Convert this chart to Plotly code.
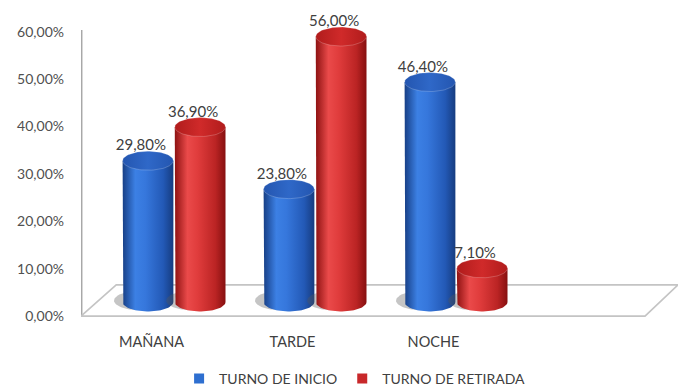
import numpy as np
import plotly.graph_objects as go

# ---------------- data ----------------
categories = ["MAÑANA", "TARDE", "NOCHE"]
turno_inicio = [29.8, 23.8, 46.4]
turno_retirada = [36.9, 56.0, 7.1]
series_names = ["TURNO DE INICIO", "TURNO DE RETIRADA"]
y_tick_values = [0, 10, 20, 30, 40, 50, 60]
y_tick_labels = ["0,00%", "10,00%", "20,00%", "30,00%", "40,00%", "50,00%", "60,00%"]

# ---------------- style ----------------
FONT = "Lato"
TXT = "#404040"
BASE = 3.0          # 3D floor offset (data units)
ELL_B = 2.0         # ellipse vertical semi-axis (data units)
HALF_W = 0.18       # cylinder half width (category units)
OFFSETS = [-0.025, 0.345]
X_RANGE = [-0.5, 3.734]
Y_RANGE = [-0.6, 64.6]
AXIS_TOP = 60.4
FLOOR_DEPTH_X = 0.25
FLOOR_DEPTH_Y = 6.6

body_scales = [
    [[0, "#173f86"], [0.25, "#3c80e4"], [0.45, "#3677dc"], [0.8, "#2359b6"], [1, "#163c80"]],
    [[0, "#8e1212"], [0.25, "#ea4a4a"], [0.45, "#e03c3c"], [0.8, "#bb2424"], [1, "#861010"]],
]
top_scales = [
    [[0, "#2456b0"], [0.5, "#2f68c8"], [1, "#2456b0"]],
    [[0, "#b01c1c"], [0.5, "#d02a2a"], [1, "#b01c1c"]],
]
legend_colors = ["#2e6fd0", "#c8282a"]

fig = go.Figure()

# vertical axis line
fig.add_trace(go.Scatter(x=[X_RANGE[0] + 0.004, X_RANGE[0] + 0.004], y=[0, AXIS_TOP], mode="lines",
                         line=dict(color="#a8a8a8", width=1.8), hoverinfo="skip", showlegend=False))

# floor (3D base plane outline)
fx = [X_RANGE[0], 3.5, 3.5 + FLOOR_DEPTH_X - 0.016, X_RANGE[0] + FLOOR_DEPTH_X, X_RANGE[0]]
fy = [0, 0, FLOOR_DEPTH_Y, FLOOR_DEPTH_Y, 0]
fig.add_trace(go.Scatter(x=fx, y=fy, mode="lines", line=dict(color="#c4c4c4", width=1.6),
                         hoverinfo="skip", showlegend=False))

theta = np.linspace(0, np.pi, 40)
full = np.linspace(0, 2 * np.pi, 80)

for s, values in enumerate([turno_inicio, turno_retirada]):
    for i, v in enumerate(values):
        xc = i + OFFSETS[s]
        top = BASE + v
        # shadow
        sx = xc - 0.07 + HALF_W * 0.95 * np.cos(full)
        sy = BASE + 0.3 + ELL_B * 1.0 * np.sin(full)
        fig.add_trace(go.Scatter(x=sx, y=sy, mode="lines", fill="toself",
                                 fillcolor="rgba(90,90,90,0.35)", line=dict(width=0),
                                 hoverinfo="skip", showlegend=False))
        # body
        bx = np.concatenate([[xc - HALF_W], xc - HALF_W * np.cos(theta), [xc + HALF_W, xc - HALF_W]])
        by = np.concatenate([[top], BASE - ELL_B * np.sin(theta), [top, top]])
        fig.add_trace(go.Scatter(x=bx, y=by, mode="lines", fill="toself",
                                 fillgradient=dict(type="horizontal", colorscale=body_scales[s]),
                                 line=dict(width=0), hoverinfo="skip", showlegend=False))
        # top face
        tx = xc + HALF_W * np.cos(full)
        ty = top + ELL_B * np.sin(full)
        fig.add_trace(go.Scatter(x=tx, y=ty, mode="lines", fill="toself",
                                 fillgradient=dict(type="horizontal", colorscale=top_scales[s]),
                                 line=dict(width=0.6, color="rgba(255,255,255,0.35)"),
                                 hoverinfo="skip", showlegend=False))

# data labels
for s, values in enumerate([turno_inicio, turno_retirada]):
    fig.add_trace(go.Scatter(
        x=[i + OFFSETS[s] - 0.05 for i in range(len(values))],
        y=[BASE + v + 3.0 for v in values],
        mode="text",
        text=[f"{v:.2f}%".replace(".", ",") for v in values],
        textposition="middle center",
        textfont=dict(family=FONT, size=15, color=TXT),
        cliponaxis=False, hoverinfo="skip", showlegend=False))

# legend entries
for s, name in enumerate(series_names):
    fig.add_trace(go.Scatter(x=[None], y=[None], mode="markers", name=name,
                             marker=dict(symbol="square", size=10, color=legend_colors[s])))

fig.update_layout(
    width=678, height=387,
    margin=dict(l=81, r=0, t=10, b=68, autoexpand=False),
    paper_bgcolor="white", plot_bgcolor="white",
    font=dict(family=FONT, color=TXT),
    showlegend=True,
    legend=dict(orientation="h", xref="container", yref="container",
                x=0.523, xanchor="center", y=0.021, yanchor="middle",
                font=dict(family=FONT, size=14, color=TXT), itemwidth=30,
                tracegroupgap=0),
    xaxis=dict(range=X_RANGE, tickvals=list(range(len(categories))), ticktext=categories,
               showgrid=False, zeroline=False, showline=False, ticks="",
               ticklabelstandoff=12,
               tickfont=dict(family=FONT, size=14.5, color=TXT), fixedrange=True),
    yaxis=dict(range=Y_RANGE, tickvals=y_tick_values, ticktext=y_tick_labels,
               showgrid=False, zeroline=False, showline=False,
               ticks="", ticklabelstandoff=16,
               tickfont=dict(family=FONT, size=14, color="#505050"), fixedrange=True),
)

fig.write_html("out.html")
